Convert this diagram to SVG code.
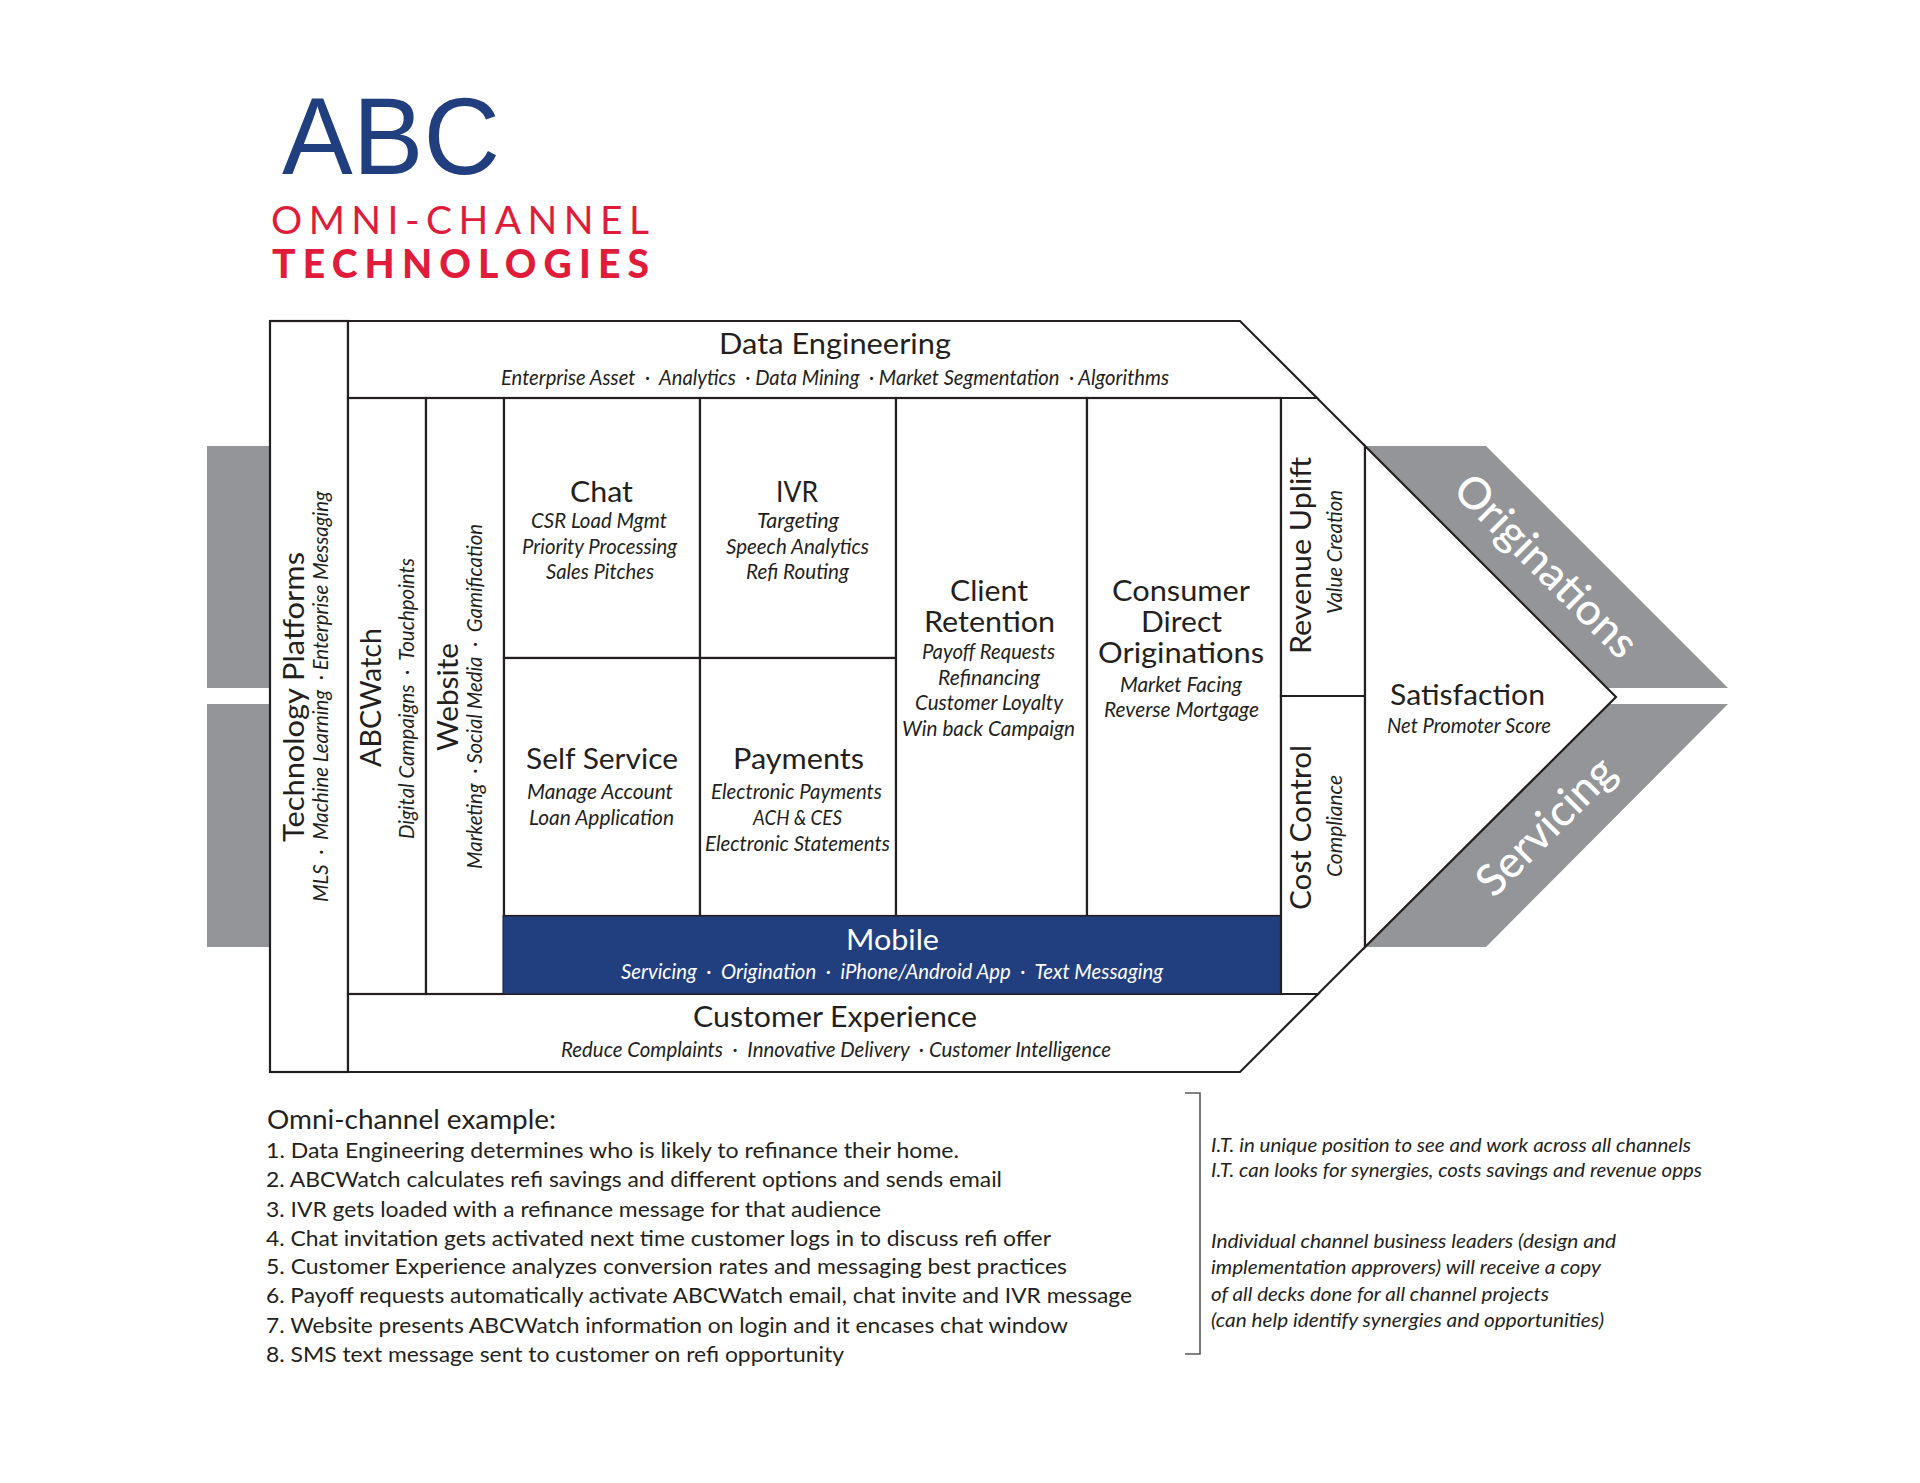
<svg xmlns="http://www.w3.org/2000/svg" width="1920" height="1483" viewBox="0 0 1920 1483">
<style>
text{font-family:"Lato","Liberation Sans",sans-serif;fill:#231f20}
.h{font-size:29px}
.s{font-size:20.5px;font-style:italic;white-space:pre}
.w{fill:#fff}
.cell{fill:#fff;stroke:#231f20;stroke-width:2.2}
.band{fill:#939598}
.l{font-size:21.5px}
.n{font-size:18.5px;font-style:italic}
.big{font-size:44px;font-weight:500}
.red{font-size:39px;fill:#e01c3a}
</style>
<rect width="1920" height="1483" fill="#fff"/>
<g id="title">
<text x="282" y="174" font-size="110" textLength="218" lengthAdjust="spacingAndGlyphs" style="font-family:'Liberation Sans',Arial,sans-serif;fill:#213e7f">ABC</text>
<text class="red" x="271" y="234" textLength="378" lengthAdjust="spacing">OMNI-CHANNEL</text>
<text class="red" x="272" y="278" font-weight="900" textLength="377" lengthAdjust="spacing">TECHNOLOGIES</text>
</g>
<g id="bands">
<rect class="band" x="207" y="446" width="64" height="242"/>
<rect class="band" x="207" y="704" width="64" height="243"/>
<polygon class="band" points="1365,446 1486,446 1728,688 1607,688"/>
<polygon class="band" points="1365,947 1486,947 1728,704 1609,704"/>
</g>
<g id="technology-platforms">
<rect class="cell" x="270" y="321" width="78" height="751"/>
<text class="h" transform="translate(304 842) rotate(-90)" textLength="290" lengthAdjust="spacingAndGlyphs">Technology Platforms</text>
<text class="s" transform="translate(328 902) rotate(-90)" textLength="411" lengthAdjust="spacingAndGlyphs">MLS  ·  Machine Learning  · Enterprise Messaging</text>
</g>
<g id="data-engineering">
<polygon class="cell" points="348,321 1240,321 1317,398 348,398"/>
<text class="h" x="719" y="354" textLength="232" lengthAdjust="spacingAndGlyphs">Data Engineering</text>
<text class="s" x="501" y="385" textLength="668" lengthAdjust="spacingAndGlyphs">Enterprise Asset  ·  Analytics  · Data Mining  · Market Segmentation  · Algorithms</text>
</g>
<g id="customer-experience">
<polygon class="cell" points="348,994 1318,994 1240,1072 348,1072"/>
<text class="h" x="693" y="1027" textLength="284" lengthAdjust="spacingAndGlyphs">Customer Experience</text>
<text class="s" x="561" y="1057" textLength="550" lengthAdjust="spacingAndGlyphs">Reduce Complaints  ·  Innovative Delivery  · Customer Intelligence</text>
</g>
<g id="abcwatch">
<rect class="cell" x="348" y="398" width="78" height="596"/>
<text class="h" transform="translate(381 767) rotate(-90)" textLength="139" lengthAdjust="spacingAndGlyphs">ABCWatch</text>
<text class="s" transform="translate(414 839) rotate(-90)" textLength="281" lengthAdjust="spacingAndGlyphs">Digital Campaigns  ·  Touchpoints</text>
</g>
<g id="website">
<rect class="cell" x="426" y="398" width="78" height="596"/>
<text class="h" transform="translate(458 751) rotate(-90)" textLength="108" lengthAdjust="spacingAndGlyphs">Website</text>
<text class="s" transform="translate(482 869) rotate(-90)" textLength="345" lengthAdjust="spacingAndGlyphs">Marketing  · Social Media  ·  Gamification</text>
</g>
<g id="chat">
<rect class="cell" x="504" y="398" width="196" height="260"/>
<text class="h" x="570" y="502" textLength="63" lengthAdjust="spacingAndGlyphs">Chat</text>
<text class="s" x="531" y="528" textLength="136" lengthAdjust="spacingAndGlyphs">CSR Load Mgmt</text>
<text class="s" x="522" y="554" textLength="155" lengthAdjust="spacingAndGlyphs">Priority Processing</text>
<text class="s" x="546" y="579" textLength="108" lengthAdjust="spacingAndGlyphs">Sales Pitches</text>
</g>
<g id="ivr">
<rect class="cell" x="700" y="398" width="196" height="260"/>
<text class="h" x="776" y="502" textLength="42" lengthAdjust="spacingAndGlyphs">IVR</text>
<text class="s" x="757" y="528" textLength="82" lengthAdjust="spacingAndGlyphs">Targeting</text>
<text class="s" x="726" y="554" textLength="143" lengthAdjust="spacingAndGlyphs">Speech Analytics</text>
<text class="s" x="746" y="579" textLength="103" lengthAdjust="spacingAndGlyphs">Refi Routing</text>
</g>
<g id="self-service">
<rect class="cell" x="504" y="658" width="196" height="258"/>
<text class="h" x="526" y="769" textLength="152" lengthAdjust="spacingAndGlyphs">Self Service</text>
<text class="s" x="527" y="799" textLength="146" lengthAdjust="spacingAndGlyphs">Manage Account</text>
<text class="s" x="529" y="825" textLength="145" lengthAdjust="spacingAndGlyphs">Loan Application</text>
</g>
<g id="payments">
<rect class="cell" x="700" y="658" width="196" height="258"/>
<text class="h" x="733" y="769" textLength="131" lengthAdjust="spacingAndGlyphs">Payments</text>
<text class="s" x="711" y="799" textLength="171" lengthAdjust="spacingAndGlyphs">Electronic Payments</text>
<text class="s" x="753" y="825" textLength="89" lengthAdjust="spacingAndGlyphs">ACH &amp; CES</text>
<text class="s" x="705" y="851" textLength="185" lengthAdjust="spacingAndGlyphs">Electronic Statements</text>
</g>
<g id="client-retention">
<rect class="cell" x="896" y="398" width="191" height="518"/>
<text class="h" x="950" y="601" textLength="78" lengthAdjust="spacingAndGlyphs">Client</text>
<text class="h" x="924" y="632" textLength="131" lengthAdjust="spacingAndGlyphs">Retention</text>
<text class="s" x="922" y="659" textLength="133" lengthAdjust="spacingAndGlyphs">Payoff Requests</text>
<text class="s" x="938" y="685" textLength="102" lengthAdjust="spacingAndGlyphs">Refinancing</text>
<text class="s" x="915" y="710" textLength="148" lengthAdjust="spacingAndGlyphs">Customer Loyalty</text>
<text class="s" x="902" y="736" textLength="173" lengthAdjust="spacingAndGlyphs">Win back Campaign</text>
</g>
<g id="consumer-direct-originations">
<rect class="cell" x="1087" y="398" width="194" height="518"/>
<text class="h" x="1112" y="601" textLength="138" lengthAdjust="spacingAndGlyphs">Consumer</text>
<text class="h" x="1141" y="632" textLength="81" lengthAdjust="spacingAndGlyphs">Direct</text>
<text class="h" x="1098" y="663" textLength="166" lengthAdjust="spacingAndGlyphs">Originations</text>
<text class="s" x="1120" y="692" textLength="122" lengthAdjust="spacingAndGlyphs">Market Facing</text>
<text class="s" x="1104" y="717" textLength="155" lengthAdjust="spacingAndGlyphs">Reverse Mortgage</text>
</g>
<g id="mobile">
<rect x="503" y="916" width="778" height="78" fill="#213e7f" stroke="#231f20" stroke-width="1"/>
<text class="h w" x="846" y="950" textLength="93" lengthAdjust="spacingAndGlyphs">Mobile</text>
<text class="s w" x="621" y="979" textLength="542" lengthAdjust="spacingAndGlyphs">Servicing  ·  Origination  ·  iPhone/Android App  ·  Text Messaging</text>
</g>
<g id="revenue-uplift">
<polygon class="cell" points="1281,398 1317,398 1365,446 1365,696 1281,696"/>
<text class="h" transform="translate(1311 654) rotate(-90)" textLength="197" lengthAdjust="spacingAndGlyphs">Revenue Uplift</text>
<text class="s" transform="translate(1342 614) rotate(-90)" textLength="124" lengthAdjust="spacingAndGlyphs">Value Creation</text>
</g>
<g id="cost-control">
<polygon class="cell" points="1281,696 1365,696 1365,947 1318,994 1281,994"/>
<text class="h" transform="translate(1311 910) rotate(-90)" textLength="165" lengthAdjust="spacingAndGlyphs">Cost Control</text>
<text class="s" transform="translate(1342 877) rotate(-90)" textLength="102" lengthAdjust="spacingAndGlyphs">Compliance</text>
</g>
<g id="satisfaction">
<polygon class="cell" points="1365,446 1616,697 1365,947"/>
<text class="h" x="1390" y="705" textLength="155" lengthAdjust="spacingAndGlyphs">Satisfaction</text>
<text class="s" x="1387" y="733" textLength="164" lengthAdjust="spacingAndGlyphs">Net Promoter Score</text>
</g>
<g id="band-labels">
<text class="w big" transform="translate(1451 492) rotate(45)" textLength="239" lengthAdjust="spacingAndGlyphs">Originations</text>
<text class="w big" transform="translate(1494 899) rotate(-45)" textLength="176" lengthAdjust="spacingAndGlyphs">Servicing</text>
</g>
<g id="example">
<text x="267" y="1129" font-size="26.5" textLength="289" lengthAdjust="spacingAndGlyphs">Omni-channel example:</text>
<text class="l" x="266" y="1158" textLength="693" lengthAdjust="spacingAndGlyphs">1. Data Engineering determines who is likely to refinance their home.</text>
<text class="l" x="266" y="1187" textLength="736" lengthAdjust="spacingAndGlyphs">2. ABCWatch calculates refi savings and different options and sends email</text>
<text class="l" x="266" y="1217" textLength="615" lengthAdjust="spacingAndGlyphs">3. IVR gets loaded with a refinance message for that audience</text>
<text class="l" x="266" y="1246" textLength="785" lengthAdjust="spacingAndGlyphs">4. Chat invitation gets activated next time customer logs in to discuss refi offer</text>
<text class="l" x="266" y="1274" textLength="801" lengthAdjust="spacingAndGlyphs">5. Customer Experience analyzes conversion rates and messaging best practices</text>
<text class="l" x="266" y="1303" textLength="866" lengthAdjust="spacingAndGlyphs">6. Payoff requests automatically activate ABCWatch email, chat invite and IVR message</text>
<text class="l" x="266" y="1333" textLength="802" lengthAdjust="spacingAndGlyphs">7. Website presents ABCWatch information on login and it encases chat window</text>
<text class="l" x="266" y="1362" textLength="578" lengthAdjust="spacingAndGlyphs">8. SMS text message sent to customer on refi opportunity</text>
</g>
<g id="notes">
<path d="M1185 1093H1200V1354H1185" fill="none" stroke="#58595b" stroke-width="1.6"/>
<text class="n" x="1211" y="1152" textLength="480" lengthAdjust="spacingAndGlyphs">I.T. in unique position to see and work across all channels</text>
<text class="n" x="1211" y="1177" textLength="491" lengthAdjust="spacingAndGlyphs">I.T. can looks for synergies, costs savings and revenue opps</text>
<text class="n" x="1211" y="1248" textLength="405" lengthAdjust="spacingAndGlyphs">Individual channel business leaders (design and</text>
<text class="n" x="1211" y="1274" textLength="390" lengthAdjust="spacingAndGlyphs">implementation approvers) will receive a copy</text>
<text class="n" x="1211" y="1301" textLength="338" lengthAdjust="spacingAndGlyphs">of all decks done for all channel projects</text>
<text class="n" x="1211" y="1327" textLength="393" lengthAdjust="spacingAndGlyphs">(can help identify synergies and opportunities)</text>
</g>
</svg>
